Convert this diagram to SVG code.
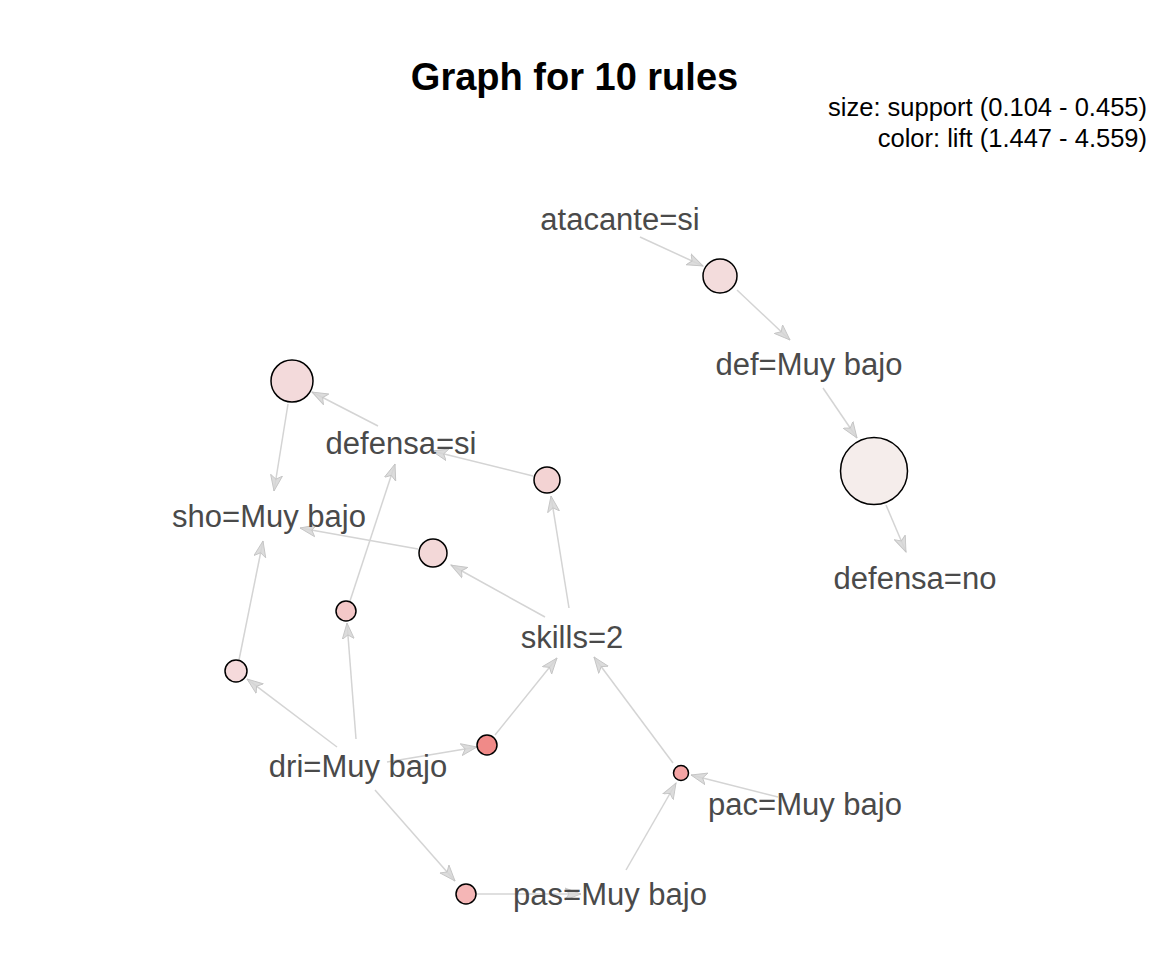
<svg xmlns="http://www.w3.org/2000/svg" width="1152" height="960" viewBox="0 0 1152 960">
<style>
.lbl{font-family:"Liberation Sans",Arial,sans-serif;font-size:31px;fill:#4a4a4a;text-anchor:middle}
.title{font-family:"Liberation Sans",Arial,sans-serif;font-size:38px;font-weight:bold;fill:#000;text-anchor:middle}
.leg{font-family:"Liberation Sans",Arial,sans-serif;font-size:25.5px;fill:#000;text-anchor:end}
.e{stroke:#d4d4d4;stroke-width:1.5;fill:none;marker-end:url(#ah)}
.n{stroke:#000;stroke-width:1.5}
</style>
<defs>
<marker id="ah" markerUnits="userSpaceOnUse" markerWidth="18" markerHeight="14" refX="16" refY="7" orient="auto" viewBox="0 0 18 14">
<path d="M0,1 L16,7 L0,13 L4,7 z" fill="#d6d6d6" fill-opacity="0.85" stroke="#c4c4c4" stroke-width="0.9"/>
</marker>
</defs>
<rect width="1152" height="960" fill="#fff"/>
<text class="title" x="574.5" y="90">Graph for 10 rules</text>
<text class="leg" x="1147" y="116">size: support (0.104 - 0.455)</text>
<text class="leg" x="1147" y="147">color: lift (1.447 - 4.559)</text>
<g id="edges">
<line class="e" x1="640" y1="237" x2="703" y2="266"/>
<line class="e" x1="737" y1="290" x2="790" y2="340"/>
<line class="e" x1="823" y1="388" x2="857" y2="438"/>
<line class="e" x1="886" y1="505" x2="906" y2="552"/>
<line class="e" x1="378" y1="426" x2="312" y2="392"/>
<line class="e" x1="288" y1="404" x2="274" y2="491"/>
<line class="e" x1="533" y1="476" x2="432" y2="451"/>
<line class="e" x1="350" y1="601" x2="395" y2="464"/>
<line class="e" x1="569" y1="608" x2="551" y2="496"/>
<line class="e" x1="545" y1="617" x2="451" y2="565"/>
<line class="e" x1="418" y1="549" x2="300" y2="528"/>
<line class="e" x1="239" y1="660" x2="263" y2="541"/>
<line class="e" x1="337" y1="747" x2="247" y2="679"/>
<line class="e" x1="356" y1="739" x2="347" y2="623"/>
<line class="e" x1="387" y1="762" x2="477" y2="747"/>
<line class="e" x1="495" y1="735" x2="557" y2="658"/>
<line class="e" x1="673" y1="763" x2="594" y2="657"/>
<line class="e" x1="778" y1="797" x2="691" y2="775"/>
<line class="e" x1="375" y1="790" x2="455" y2="881"/>
<line class="e" x1="476" y1="894" x2="581" y2="894"/>
<line class="e" x1="626" y1="870" x2="676" y2="783"/>
</g>
<g id="rule-A"><circle class="n" cx="720" cy="276" r="17" fill="#f3dcdc"/></g>
<g id="rule-B"><circle class="n" cx="874" cy="471" r="33.5" fill="#f5edeb"/></g>
<g id="rule-C"><circle class="n" cx="292" cy="381" r="21" fill="#f3dadb"/></g>
<g id="rule-D"><circle class="n" cx="547" cy="480" r="13" fill="#f3d3d3"/></g>
<g id="rule-E"><circle class="n" cx="433" cy="553" r="14" fill="#f3d8d8"/></g>
<g id="rule-F"><circle class="n" cx="346" cy="611" r="10" fill="#f4c8c8"/></g>
<g id="rule-G"><circle class="n" cx="236" cy="671" r="11" fill="#f5dadb"/></g>
<g id="rule-H"><circle class="n" cx="487" cy="745" r="10" fill="#f08a88"/></g>
<g id="rule-I"><circle class="n" cx="681" cy="773" r="7.5" fill="#f4a4a4"/></g>
<g id="rule-J"><circle class="n" cx="466" cy="894" r="10" fill="#f5b6b6"/></g>
<g id="item-atacante"><text class="lbl" x="620" y="230">atacante=si</text></g>
<g id="item-def"><text class="lbl" x="809" y="375">def=Muy bajo</text></g>
<g id="item-defensa-no"><text class="lbl" x="915" y="589">defensa=no</text></g>
<g id="item-defensa-si"><text class="lbl" x="401" y="454">defensa=si</text></g>
<g id="item-sho"><text class="lbl" x="269" y="527">sho=Muy bajo</text></g>
<g id="item-skills"><text class="lbl" x="572" y="648">skills=2</text></g>
<g id="item-dri"><text class="lbl" x="358" y="777">dri=Muy bajo</text></g>
<g id="item-pac"><text class="lbl" x="805" y="815">pac=Muy bajo</text></g>
<g id="item-pas"><text class="lbl" x="610" y="905">pas=Muy bajo</text></g>
</svg>
